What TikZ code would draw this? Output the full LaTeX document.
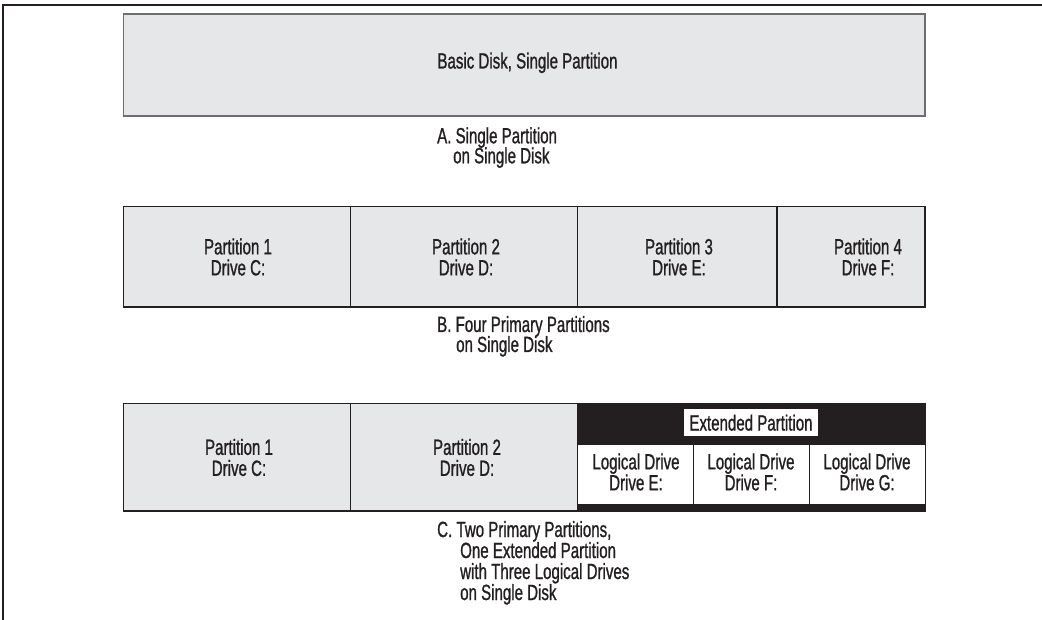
\documentclass[tikz,border=0pt]{standalone}
\usepackage{fontspec}
\setmainfont{Liberation Sans}[FakeStretch=0.685,FakeBold=1]
\definecolor{diskfill}{HTML}{E6E7E8}
\definecolor{inkblack}{HTML}{231F20}
\definecolor{edgegray}{HTML}{6D6E71}
\begin{document}
\begin{tikzpicture}[x=1pt,y=-1pt,
  txt/.style={font=\fontsize{22}{21}\selectfont, text=inkblack, inner sep=0pt, align=center},
  capline/.style={font=\fontsize{22}{21}\selectfont, text=inkblack, inner sep=0pt, anchor=base west},
  diskbox/.style={draw=inkblack, line width=1.2pt, fill=diskfill},
  divider/.style={draw=inkblack, line width=1.2pt},
  logcell/.style={draw=inkblack, line width=1pt, fill=white},
]
\useasboundingbox (0,0) rectangle (1042,620);
% frame
\draw[line width=1.5pt, inkblack] (1042,5) -- (3,5) -- (3,620);

% A
\path[diskbox, draw=edgegray, line width=1.5pt] (123.5,14) rectangle (925,116);
\node[txt, anchor=base] (adisk) at (527.5,68.5) {Basic Disk, Single Partition};
\node[capline] (capa1) at (437,143.3) {A. Single Partition};
\node[capline] (capa2) at (453,163.3) {on Single Disk};

% B
\path[diskbox] (123.5,206.5) rectangle (925,307);
\draw[divider] (350.5,206.5) -- (350.5,307);
\draw[divider] (577.5,206.5) -- (577.5,307);
\draw[divider] (777,206.5) -- (777,307);
\node[txt] (bp1) at (238,257) {Partition 1\\Drive C:};
\node[txt] (bp2) at (466,257) {Partition 2\\Drive D:};
\node[txt] (bp3) at (679,257) {Partition 3\\Drive E:};
\node[txt] (bp4) at (868,257) {Partition 4\\Drive F:};
\node[capline] (capb1) at (437,332) {B. Four Primary Partitions};
\node[capline] (capb2) at (456,352) {on Single Disk};

% C
\path[diskbox] (123.5,403.5) rectangle (577.5,511);
\draw[divider] (350.5,403.5) -- (350.5,511);
\fill[inkblack] (577,403) rectangle (925.6,511.6);
\path[logcell] (577.5,444) rectangle (693.3,504.3);
\path[logcell] (693.3,444) rectangle (809.2,504.3);
\path[logcell] (809.2,444) rectangle (925,504.3);
\node[txt] (cp1) at (239,457.5) {Partition 1\\Drive C:};
\node[txt] (cp2) at (467,457.5) {Partition 2\\Drive D:};
\node[txt, fill=white, minimum width=134pt, minimum height=27pt] (ext) at (751,422.7) {Extended Partition};
\node[txt] (le) at (636,472) {Logical Drive\\Drive E:};
\node[txt] (lf) at (751,472) {Logical Drive\\Drive F:};
\node[txt] (lg) at (867,472) {Logical Drive\\Drive G:};
\node[capline] (capc1) at (437,537) {C. Two Primary Partitions,};
\node[capline] (capc2) at (460,558) {One Extended Partition};
\node[capline] (capc3) at (460,579) {with Three Logical Drives};
\node[capline] (capc4) at (460,600) {on Single Disk};
\end{tikzpicture}
\end{document}
